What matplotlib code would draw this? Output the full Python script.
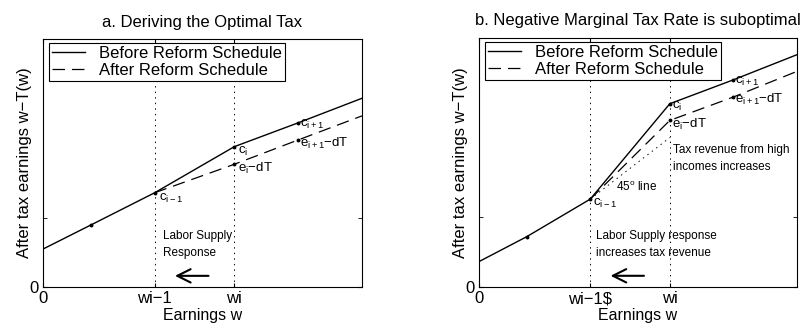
import numpy as np
import matplotlib
matplotlib.use('Agg')
import matplotlib.pyplot as plt

plt.rcParams['font.family'] = ['Liberation Sans', 'DejaVu Sans']
plt.rcParams['mathtext.fontset'] = 'custom'
plt.rcParams['mathtext.rm'] = 'Liberation Sans'
plt.rcParams['mathtext.it'] = 'Liberation Sans'
plt.rcParams['lines.scale_dashes'] = False

# datos (eje x de 0 a 4, eje y de 0 a 1)
x_nodos = [0, 0.6, 1.4, 2.4, 3.2, 4.0]
x_despues = [1.4, 2.4, 3.2, 4.0]
x_ticks = [0, 1.4, 2.4]

a_antes = [0.153, 0.25, 0.38, 0.566, 0.662, 0.761]
a_despues = [0.38, 0.495, 0.593, 0.69]

b_antes = [0.102, 0.202, 0.353, 0.736, 0.832, 0.933]
b_despues = [0.353, 0.669, 0.763, 0.866]
b_45_x = [1.4, 2.4]
b_45_y = [0.353, 0.60]

titulos = ['a. Deriving the Optimal Tax', 'b. Negative Marginal Tax Rate is suboptimal']
etiquetas_x = [['0', 'wi\u22121', 'wi'], ['0', 'wi\u22121$', 'wi']]

fig = plt.figure(figsize=(8.05, 3.29), dpi=100)
ax_a = fig.add_axes([43 / 805, 42 / 329, 319 / 805, 248 / 329])
ax_b = fig.add_axes([479 / 805, 42 / 329, 318 / 805, 249 / 329])

datos = [(ax_a, a_antes, a_despues), (ax_b, b_antes, b_despues)]

for k, (ax, antes, despues) in enumerate(datos):
    ax.plot(x_nodos, antes, '-', color='black', lw=1.0, label='Before Reform Schedule')
    ax.plot(x_despues, despues, color='black', lw=0.9, dashes=(9, 5), label='After Reform Schedule')
    ax.plot(x_nodos[1:5], antes[1:5], 'o', color='black', ms=1.8)
    ax.plot(x_despues[1:3], despues[1:3], 'o', color='black', ms=1.8)
    for xv in x_ticks[1:]:
        ax.axvline(xv, color='black', lw=0.7, ls=(0, (1, 3)))
    ax.set_xlim(0, 4)
    ax.set_ylim(0, 1)
    ax.set_xticks(x_ticks)
    ax.set_xticklabels(etiquetas_x[k], fontsize=12)
    ax.set_yticks([0])
    ax.set_yticklabels(['0'], fontsize=12)
    ax.set_yticks([0.28], minor=True)
    ax.tick_params(direction='in', length=3, top=True, right=True, pad=3)
    ax.tick_params(which='minor', direction='in', length=3, right=True)
    ax.set_xlabel('Earnings w', fontsize=11.5, labelpad=1)
    ax.set_ylabel('After tax earnings w\u2212T(w)', fontsize=12, labelpad=-2)
    ax.set_title(titulos[k], fontsize=12, pad=9)
    leg = ax.legend(loc='upper left', bbox_to_anchor=(0.018, 0.985), fontsize=12,
                    fancybox=False, framealpha=1, edgecolor='black', handlelength=2.0,
                    borderpad=0.2, labelspacing=0.1, handletextpad=0.8, borderaxespad=0)
    leg.get_frame().set_linewidth(0.8)
    ax.annotate('', xy=(1.62, 0.045), xytext=(2.11, 0.045),
                arrowprops=dict(arrowstyle='->', color='black', lw=1.5, mutation_scale=24))

fs = 9.5
# etiquetas panel a
ax_a.text(1.45, 0.385, r'c$_{\mathregular{i-1}}$', fontsize=fs, va='top')
ax_a.text(2.44, 0.575, r'c$_{\mathregular{i}}$', fontsize=fs, va='top')
ax_a.text(2.44, 0.51, r'e$_{\mathregular{i}}$$-$dT', fontsize=fs, va='top')
ax_a.text(3.22, 0.68, r'c$_{\mathregular{i+1}}$', fontsize=fs, va='top')
ax_a.text(3.22, 0.61, r'e$_{\mathregular{i+1}}$$-$dT', fontsize=fs, va='top')
ax_a.text(1.5, 0.23, 'Labor Supply\nResponse', fontsize=8.5, va='top', linespacing=1.6)

# etiquetas panel b
ax_b.text(1.44, 0.36, r'c$_{\mathregular{i-1}}$', fontsize=fs, va='top')
ax_b.text(2.43, 0.75, r'c$_{\mathregular{i}}$', fontsize=fs, va='top')
ax_b.text(2.43, 0.685, r'e$_{\mathregular{i}}$$-$dT', fontsize=fs, va='top')
ax_b.text(3.22, 0.85, r'c$_{\mathregular{i+1}}$', fontsize=fs, va='top')
ax_b.text(3.22, 0.785, r'e$_{\mathregular{i+1}}$$-$dT', fontsize=fs, va='top')
ax_b.plot(b_45_x, b_45_y, color='black', lw=0.7, ls=(0, (1, 3)))
ax_b.text(1.72, 0.40, r'45$^{\mathregular{o}}$ line', fontsize=8.5, va='center')
ax_b.text(2.44, 0.575, 'Tax revenue from high\nincomes increases', fontsize=8.5, va='top', linespacing=1.6)
ax_b.text(1.47, 0.23, 'Labor Supply response\nincreases tax revenue', fontsize=8.5, va='top', linespacing=1.6)

plt.savefig('out.png', dpi=100)
